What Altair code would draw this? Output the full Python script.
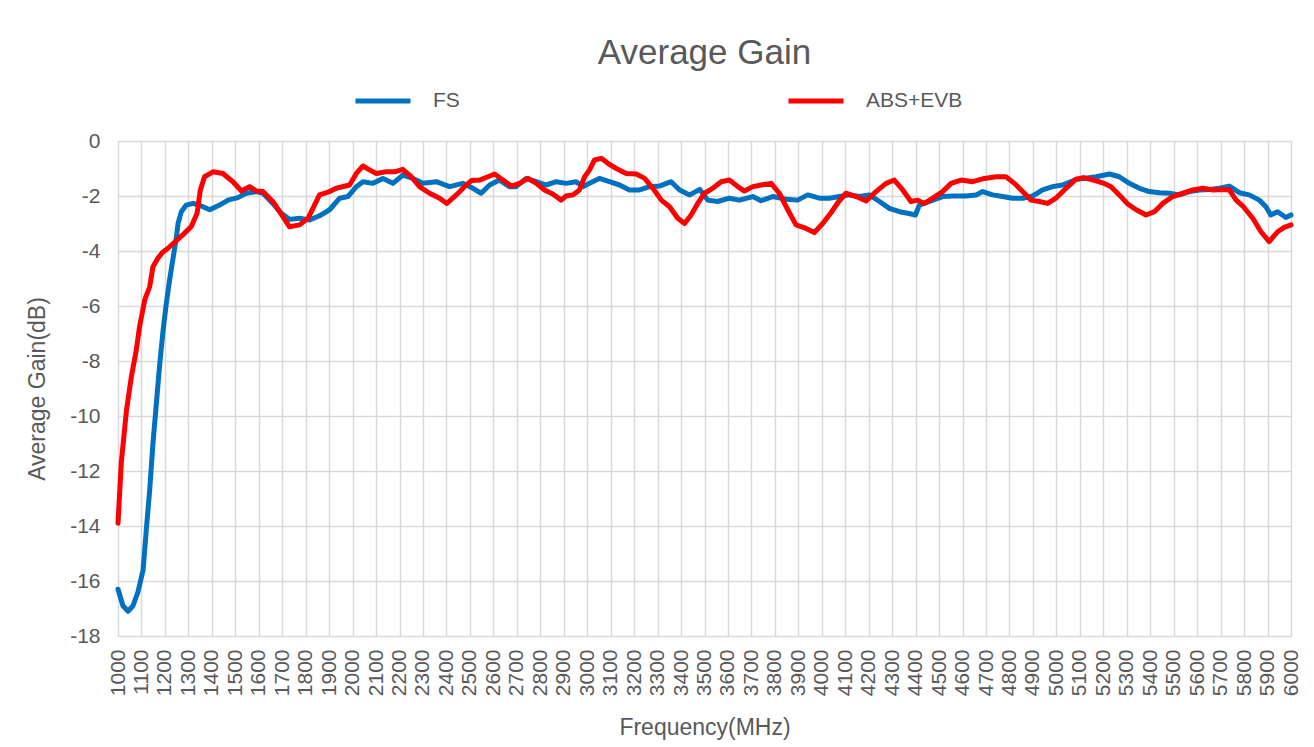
import altair as alt
import pandas as pd

fs_freq = [1000, 1021, 1043, 1064, 1085, 1107, 1121, 1135, 1149, 1164, 1178, 1192, 1206, 1220, 1234,
           1249, 1256, 1270, 1291, 1320, 1355, 1391, 1433, 1469, 1511, 1547, 1590, 1618, 1660, 1696,
           1731, 1774, 1817, 1859, 1902, 1945, 1980, 2016, 2044, 2087, 2129, 2172, 2214, 2257, 2300,
           2357, 2413, 2470, 2513, 2548, 2584, 2626, 2669, 2697, 2740, 2783, 2825, 2868, 2910, 2953,
           2981, 3010, 3052, 3095, 3138, 3180, 3223, 3266, 3308, 3358, 3394, 3437, 3480, 3514, 3556,
           3606, 3649, 3706, 3741, 3791, 3848, 3897, 3940, 3990, 4032, 4075, 4118, 4160, 4203, 4246,
           4288, 4331, 4366, 4399, 4416, 4459, 4515, 4558, 4615, 4657, 4686, 4728, 4771, 4813, 4856,
           4899, 4941, 4984, 5026, 5084, 5115, 5170, 5226, 5268, 5311, 5354, 5396, 5439, 5482, 5524,
           5567, 5610, 5652, 5695, 5737, 5780, 5822, 5865, 5893, 5914, 5943, 5978, 6000]
fs_gain = [-16.3, -16.9, -17.1, -16.9, -16.4, -15.6, -14.1, -12.7, -11.0, -9.5, -8.1, -6.9, -5.9, -5.05, -4.3,
           -3.5, -3.0, -2.57, -2.33, -2.27, -2.36, -2.5, -2.33, -2.15, -2.06, -1.9, -1.84, -1.9, -2.27, -2.63,
           -2.85, -2.81, -2.87, -2.72, -2.5, -2.08, -2.02, -1.66, -1.48, -1.54, -1.36, -1.54, -1.24, -1.36, -1.54,
           -1.48, -1.66, -1.54, -1.72, -1.9, -1.6, -1.42, -1.66, -1.66, -1.36, -1.48, -1.6, -1.48, -1.54, -1.48,
           -1.66, -1.54, -1.36, -1.48, -1.6, -1.78, -1.78, -1.66, -1.64, -1.48, -1.78, -1.96, -1.76, -2.15, -2.2,
           -2.08, -2.15, -2.02, -2.17, -2.02, -2.12, -2.15, -1.96, -2.08, -2.08, -2.02, -1.96, -2.02, -1.96, -2.2,
           -2.45, -2.57, -2.63, -2.69, -2.33, -2.2, -2.02, -2.0, -2.0, -1.96, -1.84, -1.96, -2.02, -2.08, -2.08,
           -2.0, -1.78, -1.66, -1.6, -1.4, -1.36, -1.3, -1.2, -1.3, -1.54, -1.72, -1.84, -1.88, -1.9, -1.96,
           -1.84, -1.78, -1.76, -1.72, -1.64, -1.88, -1.96, -2.15, -2.39, -2.69, -2.57, -2.78, -2.69]

abs_freq = [1000, 1014, 1036, 1057, 1078, 1092, 1114, 1135, 1149, 1170, 1190, 1213, 1249, 1284, 1313,
            1337, 1351, 1369, 1405, 1447, 1490, 1526, 1561, 1590, 1618, 1660, 1689, 1731, 1774, 1810,
            1859, 1902, 1930, 1987, 2016, 2044, 2072, 2101, 2144, 2179, 2214, 2250, 2285, 2328, 2371,
            2402, 2442, 2477, 2506, 2541, 2577, 2605, 2641, 2676, 2712, 2747, 2783, 2818, 2853, 2889,
            2910, 2939, 2967, 2989, 3010, 3031, 3060, 3088, 3124, 3166, 3209, 3245, 3280, 3316, 3351,
            3386, 3415, 3443, 3471, 3500, 3535, 3571, 3606, 3642, 3670, 3706, 3741, 3784, 3819, 3855,
            3890, 3933, 3968, 4004, 4040, 4072, 4103, 4146, 4189, 4231, 4274, 4309, 4345, 4380, 4408,
            4437, 4473, 4515, 4551, 4594, 4643, 4693, 4743, 4785, 4821, 4856, 4892, 4927, 4963, 4998,
            5041, 5084, 5115, 5158, 5197, 5233, 5268, 5304, 5340, 5382, 5418, 5453, 5496, 5539, 5581,
            5624, 5667, 5709, 5737, 5766, 5797, 5837, 5872, 5907, 5943, 5971, 6000]
abs_gain = [-13.9, -11.7, -9.8, -8.57, -7.6, -6.75, -5.78, -5.3, -4.57, -4.26, -4.05, -3.9, -3.62, -3.35, -3.1,
            -2.63, -1.78, -1.3, -1.12, -1.18, -1.48, -1.82, -1.66, -1.82, -1.84, -2.2, -2.57, -3.12, -3.05, -2.81,
            -1.96, -1.84, -1.72, -1.6, -1.18, -0.91, -1.05, -1.18, -1.12, -1.12, -1.03, -1.3, -1.66, -1.9, -2.08,
            -2.27, -1.96, -1.66, -1.44, -1.42, -1.3, -1.2, -1.42, -1.64, -1.54, -1.36, -1.54, -1.78, -1.93, -2.15,
            -2.0, -1.96, -1.78, -1.3, -1.05, -0.69, -0.63, -0.81, -1.0, -1.18, -1.2, -1.36, -1.72, -2.15, -2.39,
            -2.81, -3.0, -2.69, -2.27, -1.9, -1.72, -1.48, -1.42, -1.66, -1.82, -1.66, -1.6, -1.54, -1.9, -2.5,
            -3.05, -3.18, -3.33, -3.0, -2.6, -2.2, -1.9, -2.02, -2.18, -1.84, -1.54, -1.42, -1.78, -2.2, -2.15,
            -2.27, -2.08, -1.84, -1.54, -1.42, -1.48, -1.36, -1.3, -1.3, -1.54, -1.84, -2.15, -2.2, -2.27, -2.08,
            -1.72, -1.39, -1.33, -1.42, -1.52, -1.66, -1.96, -2.29, -2.5, -2.69, -2.57, -2.27, -2.02, -1.9, -1.78,
            -1.72, -1.78, -1.76, -1.78, -2.15, -2.39, -2.81, -3.3, -3.66, -3.3, -3.14, -3.05]

series_names = ["FS", "ABS+EVB"]
series_colors = ["#0070C0", "#FF0000"]
x_ticks = list(range(1000, 6001, 100))
y_ticks = list(range(-18, 1, 2))

df = pd.concat([
    pd.DataFrame({"freq": fs_freq, "gain": fs_gain, "series": "FS", "ord": 0}),
    pd.DataFrame({"freq": abs_freq, "gain": abs_gain, "series": "ABS+EVB", "ord": 1}),
], ignore_index=True)

FONT = "Liberation Sans"
TXT = "#595959"
GRID = "#D9D9D9"

chart = alt.Chart(df).mark_line(strokeWidth=5, strokeCap="round", strokeJoin="round").encode(
    x=alt.X("freq:Q",
            scale=alt.Scale(domain=[1000, 6000], nice=False, zero=False),
            axis=alt.Axis(values=x_ticks, format="d", title="Frequency(MHz)", labelAngle=270,
                          labelAlign="right", labelBaseline="middle", labelPadding=13, ticks=False,
                          domain=False, gridColor=GRID, gridWidth=1.5, labelFontSize=21,
                          labelColor=TXT, labelFont=FONT, titleFont=FONT, titleFontSize=23,
                          titleColor=TXT, titleFontWeight="normal", titlePadding=21,
                          labelOverlap=False, labelFlush=False)),
    y=alt.Y("gain:Q",
            scale=alt.Scale(domain=[-18, 0], nice=False, zero=False),
            axis=alt.Axis(values=y_ticks, title="Average Gain(dB)", ticks=False, domain=False,
                          gridColor=GRID, gridWidth=1.5, labelFontSize=21, labelColor=TXT,
                          labelFont=FONT, labelPadding=18, labelExpr="datum.value + ''",
                          titleFont=FONT, titleFontSize=23, titleColor=TXT,
                          titleFontWeight="normal", titlePadding=20)),
    color=alt.Color("series:N",
                    scale=alt.Scale(domain=series_names, range=series_colors),
                    legend=alt.Legend(title=None, orient="none", direction="horizontal",
                                      legendX=235, legendY=-70, symbolType="stroke",
                                      symbolSize=3025, symbolStrokeWidth=5, labelFontSize=21,
                                      labelColor=TXT, labelFont=FONT, labelOffset=20,
                                      columnPadding=318)),
    order=alt.Order("ord:Q"),
    detail="series:N",
).properties(
    width=1173,
    height=495,
    title=alt.TitleParams("Average Gain", fontSize=35, font=FONT, color=TXT, fontWeight="normal",
                          anchor="middle", frame="group", offset=0),
    autosize=alt.AutoSizeParams(type="none"),
    padding={"left": 110, "top": 133, "right": 15, "bottom": 112},
).configure_view(stroke=None).configure(background="white")

chart.save("out.html", embed_options={"renderer": "svg", "actions": False})
